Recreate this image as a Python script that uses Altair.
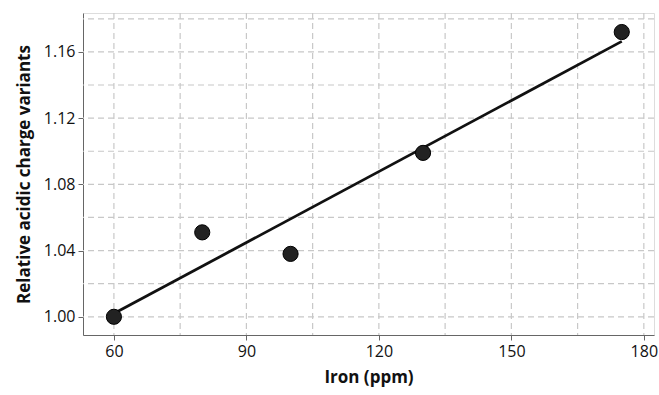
import altair as alt
import pandas as pd

# Measured iron content vs relative acidic charge variants
iron_ppm = [60, 80, 100, 130, 175]
acidic_variants = [1.000, 1.051, 1.038, 1.099, 1.172]

# Grid positions (major + half-step minor)
x_grid = [60, 75, 90, 105, 120, 135, 150, 165, 180]
y_grid = [1.00, 1.02, 1.04, 1.06, 1.08, 1.10, 1.12, 1.14, 1.16, 1.18]
x_ticks = [60, 90, 120, 150, 180]
y_ticks = [1.00, 1.04, 1.08, 1.12, 1.16]

df = pd.DataFrame({"iron": iron_ppm, "acidic": acidic_variants})
xg = pd.DataFrame({"v": x_grid})
yg = pd.DataFrame({"v": y_grid})

FONT = "Open Sans"
x_scale = alt.Scale(domain=[53, 182.3], nice=False, zero=False)
y_scale = alt.Scale(domain=[0.989, 1.1835], nice=False, zero=False)

axis_style = dict(grid=False, labelFont=FONT, labelFontSize=16, labelColor="#111",
                  labelFontWeight=500, titleFont=FONT, titleFontSize=17,
                  titleFontWeight="bold", titleColor="#111", tickSize=5,
                  tickColor="#666", domainColor="#666", labelPadding=3)

x_axis = alt.Axis(values=x_ticks, title="Iron (ppm)", format="d",
                  titlePadding=10, **axis_style)
y_axis = alt.Axis(values=y_ticks, title="Relative acidic charge variants",
                  format=".2f", titlePadding=10, **axis_style)

grid_style = dict(color="#c8c8c8", strokeWidth=1.2, strokeDash=[6, 4])

vgrid = alt.Chart(xg).mark_rule(**grid_style).encode(
    x=alt.X("v:Q", scale=x_scale, axis=x_axis)
)
hgrid = alt.Chart(yg).mark_rule(**grid_style).encode(
    y=alt.Y("v:Q", scale=y_scale, axis=y_axis)
)

base = alt.Chart(df)
fit = base.transform_regression("iron", "acidic").mark_line(
    color="#111", strokeWidth=2.8
).encode(
    x=alt.X("iron:Q", scale=x_scale, axis=x_axis),
    y=alt.Y("acidic:Q", scale=y_scale, axis=y_axis),
)
points = base.mark_circle(size=230, color="#222", opacity=1, stroke="#000",
                          strokeWidth=1).encode(
    x=alt.X("iron:Q", scale=x_scale, axis=x_axis),
    y=alt.Y("acidic:Q", scale=y_scale, axis=y_axis),
)

chart = alt.layer(vgrid, hgrid, fit, points).properties(
    width=571, height=322,
    autosize=alt.AutoSizeParams(type="none"),
    padding={"left": 83, "top": 13, "right": 5, "bottom": 60},
).configure_view(stroke="#888", strokeWidth=1.5).configure(background="white")

chart.save("out.html", embed_options={"renderer": "svg", "actions": False})
